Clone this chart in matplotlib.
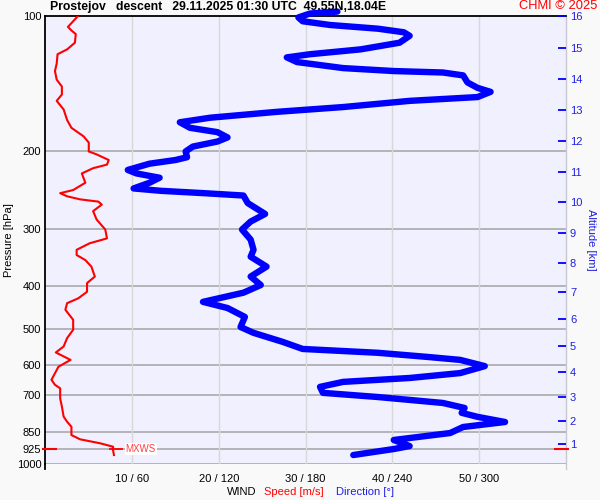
import numpy as np
import matplotlib
matplotlib.use('Agg')
import matplotlib.pyplot as plt
import matplotlib.transforms as mtransforms
from matplotlib.ticker import NullLocator

plt.rcParams['font.family'] = ['Liberation Sans', 'DejaVu Sans']

# wind direction profile (pressure hPa, degrees)
p_dir = [98, 99, 101, 103, 105, 107, 109, 111, 115, 119, 122, 124, 127, 131, 133, 134, 136, 141, 145, 148,
         152, 155, 160, 164, 169, 173, 178, 182, 187, 191, 196, 201, 207, 210, 214, 221, 225, 230, 236, 243,
         246, 249, 252, 262, 277, 288, 300, 316, 333, 345, 363, 382, 399, 415, 435, 449, 470, 495, 510, 534,
         554, 565, 577, 586, 605, 627, 643, 656, 673, 694, 709, 731, 750, 769, 785, 806, 827, 853, 884, 912,
         926, 955]
wdir = [202, 183, 175, 178, 197, 230, 248, 252, 245, 218, 183, 167, 174, 206, 241, 275, 289, 292, 299, 308,
        299, 252, 206, 160, 114, 93, 100, 119, 126, 119, 102, 97, 98, 90, 72, 57, 63, 79, 72, 61,
        80, 110, 137, 140, 152, 142, 136, 142, 144, 142, 153, 142, 149, 137, 109, 126, 138, 135, 144, 164,
        178, 230, 264, 287, 304, 287, 252, 206, 190, 192, 230, 275, 290, 288, 299, 318, 289, 280, 241, 252,
        241, 213]

# wind speed profile (pressure hPa, m/s)
p_spd = [100, 103, 106, 108, 110, 115, 119, 122, 128, 133, 139, 144, 150, 155, 162, 171, 178, 186, 192, 201,
         204, 210, 215, 219, 225, 236, 245, 249, 253, 257, 260, 264, 273, 285, 300, 314, 322, 333, 342, 351,
         363, 382, 395, 413, 427, 438, 453, 477, 502, 524, 547, 564, 586, 607, 649, 666, 678, 714, 745, 784,
         805, 826, 862, 881, 899, 915, 931, 955]
wspd = [3.8, 3.2, 2.6, 3.0, 3.5, 3.4, 2.5, 1.4, 1.3, 1.1, 1.3, 1.9, 1.9, 1.3, 2.1, 2.5, 3.0, 4.4, 5.0, 5.0,
        5.9, 7.3, 7.1, 5.5, 4.2, 4.6, 3.2, 1.7, 2.5, 4.0, 6.1, 6.5, 5.5, 5.9, 6.9, 7.1, 5.1, 3.6, 3.6, 4.6,
        5.3, 5.7, 4.8, 4.8, 3.8, 2.5, 2.3, 3.2, 3.2, 2.5, 2.1, 1.2, 2.9, 1.5, 0.7, 1.1, 1.7, 1.7, 1.9, 2.1,
        2.5, 3.0, 3.0, 4.0, 6.3, 7.8, 7.8, 7.9]

p_ticks = [100, 200, 300, 400, 500, 600, 700, 850, 925, 1000]
x_ticks = [10, 20, 30, 40, 50]
x_labels = ['10 / 60', '20 / 120', '30 / 180', '40 / 240', '50 / 300']
alt_km = list(range(1, 17))
alt_p = [902, 802, 708, 623, 545, 475, 413, 356, 305, 260, 223, 190, 162, 138, 118, 99.6]
p_station = 925

fig = plt.figure(figsize=(6, 5), dpi=100, facecolor='#f9f9f9')
ax = fig.add_axes([0.0757, 0.072, 0.8672, 0.897])
ax.set_facecolor('#f0f0fe')
ax.set_yscale('log')
ax.set_ylim(1000, 100)
ax.set_xlim(0, 60)

for p in p_ticks[1:]:
    ax.axhline(p, color='#a4a4a4', lw=1.1, zorder=1)
for x in x_ticks:
    ax.axvline(x, color='#d8d8d8', lw=1.0, zorder=1)

ax.yaxis.set_minor_locator(NullLocator())
ax.set_yticks(p_ticks)
ax.set_yticklabels([str(p) for p in p_ticks])
ax.set_xticks(x_ticks)
ax.set_xticklabels(x_labels)
ax.tick_params(axis='both', length=0, labelsize=8, pad=3)
ax.tick_params(axis='x', pad=7)

for s in ['bottom', 'right']:
    ax.spines[s].set_visible(False)
ax.spines['left'].set_color('black')
ax.spines['left'].set_linewidth(1.3)
ax.spines['top'].set_color('black')
ax.spines['top'].set_linewidth(1.3)
ax.plot([0, 0], [-0.012, 0], transform=ax.transAxes, color='black', lw=1.3, clip_on=False)
ax.plot([1, 1], [-0.012, 1], transform=ax.transAxes, color='#c8c8d4', lw=1.0, clip_on=False)

ax.set_ylabel('Pressure [hPa]', fontsize=8, labelpad=2)

ax.plot(np.array(wdir) / 6.0, p_dir, color='#0000ff', lw=4.6, solid_capstyle='round',
        solid_joinstyle='round', zorder=3, clip_on=False)
ax.plot(wspd, p_spd, color='#ff0000', lw=1.5, zorder=4, solid_joinstyle='round')

# max wind marker
imx = int(np.argmax(wspd))
ax.plot([wspd[imx] - 0.5, wspd[imx] + 0.9], [p_station, p_station], color='#ff0000', lw=1.3, zorder=4)
ax.text(wspd[imx] + 1.35, p_station, 'MXWS', color='#ff4040', fontsize=7, va='center', ha='left',
        bbox=dict(facecolor='white', edgecolor='none', pad=0.6), zorder=5)

# station level marks on both sides
trans = mtransforms.blended_transform_factory(ax.transAxes, ax.transData)
ax.plot([-0.005, 0.02], [p_station, p_station], transform=trans, color='#ff0000', lw=1.5, clip_on=False, zorder=6)
ax.plot([0.98, 1.004], [p_station, p_station], transform=trans, color='#ff0000', lw=1.5, clip_on=False, zorder=6)

# altitude axis
ax2 = ax.twinx()
ax2.set_yscale('log')
ax2.set_ylim(1000, 100)
ax2.yaxis.set_minor_locator(NullLocator())
ax2.set_yticks(alt_p)
ax2.set_yticklabels([str(a) for a in alt_km])
ax2.tick_params(axis='y', direction='in', length=6, width=1.3, color='#0000ff', labelcolor='#2020e0',
                labelsize=8, pad=3)
for s in ax2.spines.values():
    s.set_visible(False)
ax2.set_ylabel('Altitude [km]', color='#2020e0', fontsize=8, rotation=270, labelpad=10)

fig.text(50 / 600, 1 - 7 / 500, 'Prostejov   descent   29.11.2025 01:30 UTC  49.55N,18.04E',
         fontsize=8.8, fontweight='bold', va='center', ha='left')
fig.text(597 / 600, 1 - 6 / 500, 'CHMI \u00a9 2025', color='#ff0000', fontsize=9.3, va='center', ha='right')

fig.text(256 / 600, 1 - 492 / 500, 'WIND', fontsize=8, ha='right', va='center')
fig.text(264 / 600, 1 - 492 / 500, 'Speed [m/s]', fontsize=8, color='#ff0000', ha='left', va='center')
fig.text(336 / 600, 1 - 492 / 500, 'Direction [\u00b0]', fontsize=8, color='#2020e0', ha='left', va='center')

fig.savefig('out.png', dpi=100, facecolor=fig.get_facecolor())
